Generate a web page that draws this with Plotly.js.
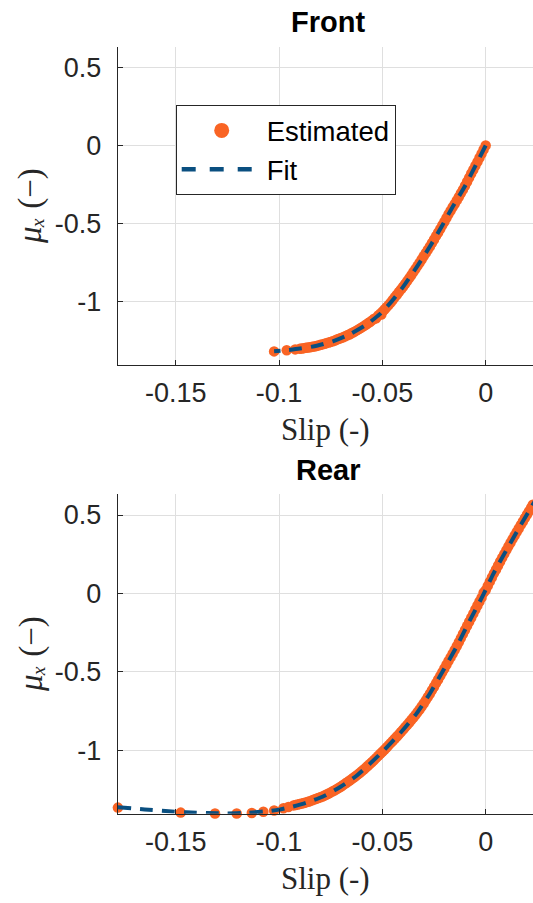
<!DOCTYPE html>
<html>
<head>
<meta charset="utf-8">
<script src="https://cdn.plot.ly/plotly-3.0.1.min.js"></script>
<style>html,body{margin:0;padding:0;background:#fff;}#chart{width:533px;height:903px;}</style>
</head>
<body>
<div id="chart"></div>
<script>
// ---------- data ----------
const xTickVals = [-0.15, -0.1, -0.05, 0];
const xTickText = ["-0.15", "-0.1", "-0.05", "0"];
const yTickVals = [0.5, 0, -0.5, -1];
const yTickText = ["0.5", "0", "-0.5", "-1"];

// Front – estimated
const frontEstSlip = [0, -0.001, -0.002, -0.003, -0.004, -0.005, -0.006, -0.007, -0.008, -0.009,
  -0.010, -0.011, -0.012, -0.013, -0.014, -0.015, -0.016, -0.017, -0.018, -0.019,
  -0.020, -0.021, -0.022, -0.023, -0.024, -0.025, -0.026, -0.027, -0.028, -0.029,
  -0.030, -0.031, -0.032, -0.033, -0.034, -0.035, -0.036, -0.037, -0.038, -0.039,
  -0.040, -0.041, -0.042, -0.043, -0.044, -0.045, -0.046, -0.047, -0.048, -0.049,
  -0.050, -0.0505, -0.051, -0.052, -0.053, -0.054, -0.055, -0.056, -0.057, -0.058, -0.059,
  -0.060, -0.061, -0.062, -0.063, -0.064, -0.065, -0.066, -0.067, -0.068, -0.069,
  -0.070, -0.071, -0.072, -0.073, -0.074, -0.075, -0.076, -0.077, -0.078, -0.079,
  -0.080, -0.081, -0.082, -0.083, -0.084, -0.085, -0.086, -0.087, -0.088, -0.089,
  -0.0899, -0.0922, -0.0963, -0.1024];
const frontEstMu = [0, -0.026, -0.053, -0.079, -0.105, -0.130, -0.155, -0.180, -0.206, -0.232,
  -0.258, -0.283, -0.306, -0.330, -0.352, -0.375, -0.396, -0.418, -0.441, -0.465,
  -0.489, -0.512, -0.536, -0.558, -0.580, -0.603, -0.626, -0.648, -0.669, -0.690,
  -0.710, -0.731, -0.752, -0.772, -0.792, -0.812, -0.832, -0.851, -0.870, -0.888,
  -0.906, -0.923, -0.940, -0.957, -0.974, -0.991, -1.008, -1.024, -1.038, -1.052,
  -1.066, -1.085, -1.079, -1.090, -1.108, -1.112, -1.122, -1.132, -1.141, -1.150, -1.159,
  -1.167, -1.175, -1.183, -1.191, -1.198, -1.205, -1.212, -1.218, -1.224, -1.230,
  -1.235, -1.240, -1.245, -1.251, -1.256, -1.260, -1.264, -1.268, -1.272, -1.276,
  -1.279, -1.283, -1.286, -1.289, -1.291, -1.294, -1.296, -1.298, -1.300, -1.302,
  -1.304, -1.308, -1.314, -1.321];
// Front – fit
const frontFitSlip = [0, -0.0044, -0.010, -0.0165, -0.0213, -0.027, -0.0334, -0.0399, -0.0455, -0.0511, -0.0576, -0.0657, -0.0737, -0.0818, -0.0899, -0.0963, -0.1024];
const frontFitMu = [0, -0.115, -0.260, -0.405, -0.520, -0.648, -0.780, -0.905, -1.000, -1.080, -1.148, -1.210, -1.255, -1.285, -1.303, -1.313, -1.320];

// Rear – estimated
const rearEstSlip = [-0.1780, -0.1476, -0.131, -0.1205, -0.1132, -0.1076, -0.1024, -0.0979, -0.0955,
  -0.093, -0.092, -0.091, -0.090, -0.089, -0.088, -0.087, -0.086, -0.085, -0.084,
  -0.083, -0.082, -0.081, -0.080, -0.079, -0.078, -0.077, -0.076, -0.075, -0.074,
  -0.073, -0.072, -0.071, -0.070, -0.069, -0.068, -0.067, -0.066, -0.065, -0.064,
  -0.063, -0.062, -0.061, -0.060, -0.059, -0.058, -0.057, -0.056, -0.055, -0.054,
  -0.053, -0.052, -0.051, -0.050, -0.049, -0.048, -0.047, -0.046, -0.045, -0.044,
  -0.043, -0.042, -0.041, -0.040, -0.039, -0.038, -0.037, -0.036, -0.035, -0.034,
  -0.033, -0.032, -0.031, -0.030, -0.029, -0.028, -0.027, -0.026, -0.025, -0.024,
  -0.023, -0.022, -0.021, -0.020, -0.019, -0.018, -0.017, -0.016, -0.015, -0.014,
  -0.013, -0.012, -0.011, -0.010, -0.009, -0.008, -0.007, -0.006, -0.005, -0.004,
  -0.003, -0.002, -0.001, 0.000, 0.001, 0.002, 0.003, 0.004, 0.005, 0.006,
  0.007, 0.008, 0.009, 0.010, 0.011, 0.012, 0.013, 0.014, 0.015, 0.016,
  0.017, 0.018, 0.019, 0.020, 0.021, 0.022, 0.0228];
const rearEstMu = [-1.366, -1.398, -1.404, -1.404, -1.400, -1.393, -1.385, -1.370, -1.362,
  -1.352, -1.349, -1.346, -1.343, -1.340, -1.337, -1.333, -1.329, -1.325, -1.320,
  -1.315, -1.310, -1.305, -1.300, -1.295, -1.289, -1.283, -1.276, -1.269, -1.262,
  -1.255, -1.247, -1.239, -1.231, -1.222, -1.213, -1.204, -1.195, -1.186, -1.176,
  -1.166, -1.156, -1.145, -1.134, -1.123, -1.111, -1.099, -1.087, -1.075, -1.062,
  -1.049, -1.036, -1.023, -1.010, -0.997, -0.983, -0.969, -0.955, -0.941, -0.927,
  -0.913, -0.899, -0.884, -0.869, -0.854, -0.839, -0.823, -0.807, -0.791, -0.775,
  -0.758, -0.740, -0.721, -0.702, -0.682, -0.661, -0.640, -0.618, -0.595, -0.572,
  -0.549, -0.526, -0.503, -0.479, -0.455, -0.431, -0.408, -0.385, -0.361, -0.337,
  -0.311, -0.285, -0.259, -0.233, -0.207, -0.181, -0.155, -0.129, -0.103, -0.077,
  -0.052, -0.027, 0.005, 0.020, 0.048, 0.075, 0.101, 0.128, 0.153, 0.178,
  0.203, 0.228, 0.252, 0.276, 0.300, 0.323, 0.346, 0.369, 0.392, 0.414,
  0.437, 0.459, 0.481, 0.503, 0.525, 0.547, 0.566];
// Rear – fit
const rearFitSlip = [-0.178, -0.165, -0.155, -0.145, -0.135, -0.125, -0.115, -0.105, -0.100, -0.095, -0.087, -0.079, -0.0704, -0.0622, -0.050, -0.0415, -0.0334, -0.027, -0.0205, -0.014, -0.0076, -0.0012, 0.0037, 0.0102, 0.0166, 0.0223, 0.026];
const rearFitMu = [-1.364, -1.378, -1.388, -1.396, -1.401, -1.403, -1.399, -1.388, -1.379, -1.365, -1.336, -1.297, -1.235, -1.160, -1.010, -0.893, -0.765, -0.638, -0.490, -0.338, -0.170, -0.010, 0.125, 0.280, 0.428, 0.555, 0.636];

const seriesNames = ["Estimated", "Fit"];

// ---------- styling ----------
const W = 533, H = 903;
const ORANGE = "#F96424";
const BLUE = "#0A4F80";
const AX = "#262626";
const GRID = "#dfdfdf";
const SANS = "Liberation Sans, Arial, Helvetica, sans-serif";
const SERIF = "Liberation Serif, DejaVu Serif, Times New Roman, serif";
const fx = p => p / W;
const fy = p => 1 - p / H;
const muLabel = "<i>μ\u2093</i> (−)";

function xaxis(anchor, dom) {
  return {
    anchor: anchor, domain: dom, range: [-0.1781, 0.0229],
    tickmode: "array", tickvals: xTickVals, ticktext: xTickText,
    ticks: "inside", ticklen: 5, tickwidth: 1, tickcolor: AX,
    showline: true, linecolor: AX, linewidth: 1, mirror: false,
    showgrid: true, gridcolor: GRID, gridwidth: 1, zeroline: false,
    tickfont: {family: SANS, size: 27, color: AX},
    ticklabelstandoff: 4, fixedrange: true, automargin: false,
    title: {text: "Slip (-)", font: {family: SERIF, size: 31, color: AX}, standoff: 11}
  };
}
function yaxis(anchor, dom) {
  return {
    anchor: anchor, domain: dom, range: [-1.405, 0.634],
    tickmode: "array", tickvals: yTickVals, ticktext: yTickText,
    ticks: "inside", ticklen: 5, tickwidth: 1, tickcolor: AX,
    showline: true, linecolor: AX, linewidth: 1, mirror: false,
    showgrid: true, gridcolor: GRID, gridwidth: 1, zeroline: false,
    tickfont: {family: SANS, size: 27, color: AX},
    ticklabelstandoff: 10, fixedrange: true, automargin: false
  };
}

const traces = [
  {x: frontEstSlip, y: frontEstMu, xaxis: "x", yaxis: "y", type: "scatter", mode: "markers",
   marker: {color: ORANGE, size: 10.5}, showlegend: false, cliponaxis: false, name: seriesNames[0]},
  {x: frontFitSlip, y: frontFitMu, xaxis: "x", yaxis: "y", type: "scatter", mode: "lines",
   line: {color: BLUE, width: 4, dash: "13px,9px", shape: "spline", smoothing: 0.6}, showlegend: false, name: seriesNames[1]},
  {x: rearEstSlip, y: rearEstMu, xaxis: "x2", yaxis: "y2", type: "scatter", mode: "markers",
   marker: {color: ORANGE, size: 10.5}, showlegend: false, cliponaxis: false, name: seriesNames[0]},
  {x: rearFitSlip, y: rearFitMu, xaxis: "x2", yaxis: "y2", type: "scatter", mode: "lines",
   line: {color: BLUE, width: 4, dash: "13px,9px", shape: "spline", smoothing: 0.6}, showlegend: false, name: seriesNames[1]},
  // legend entries
  {x: [null], y: [null], xaxis: "x", yaxis: "y", type: "scatter", mode: "markers",
   marker: {color: ORANGE, size: 15}, name: seriesNames[0], showlegend: true},
  {x: [null], y: [null], xaxis: "x", yaxis: "y", type: "scatter", mode: "lines",
   line: {color: BLUE, width: 4.5, dash: "14px,14px"}, name: seriesNames[1], showlegend: true}
];

function ann(text, x, y, opts) {
  return Object.assign({text: text, xref: "paper", yref: "paper", x: fx(x), y: fy(y),
    xanchor: "center", yanchor: "middle", showarrow: false}, opts);
}

const layout = {
  width: W, height: H, margin: {l: 0, r: 0, t: 0, b: 0, pad: 0},
  paper_bgcolor: "#fff", plot_bgcolor: "#fff",
  xaxis: xaxis("y", [fx(117.7), 1]),
  yaxis: yaxis("x", [fy(364.5), fy(46.7)]),
  xaxis2: xaxis("y2", [fx(117.7), 1]),
  yaxis2: yaxis("x2", [fy(813.7), fy(494)]),
  showlegend: true,
  legend: {
    x: fx(175.7), y: fy(105), xanchor: "left", yanchor: "top",
    bgcolor: "#fff", bordercolor: "#262626", borderwidth: 1,
    font: {family: SANS, size: 27.5, color: "#000"},
    itemwidth: 80, tracegroupgap: 0, traceorder: "normal"
  },
  annotations: [
    ann("<b>Front</b>", 328, 22, {font: {family: SANS, size: 29, color: "#000"}}),
    ann("<b>Rear</b>", 328, 470, {font: {family: SANS, size: 29, color: "#000"}}),
    ann(muLabel, 31, 206, {textangle: -90, font: {family: SERIF, size: 33, color: AX}}),
    ann(muLabel, 31, 654, {textangle: -90, font: {family: SERIF, size: 33, color: AX}})
  ]
};

Plotly.newPlot("chart", traces, layout, {displayModeBar: false, staticPlot: true});
</script>
</body>
</html>
